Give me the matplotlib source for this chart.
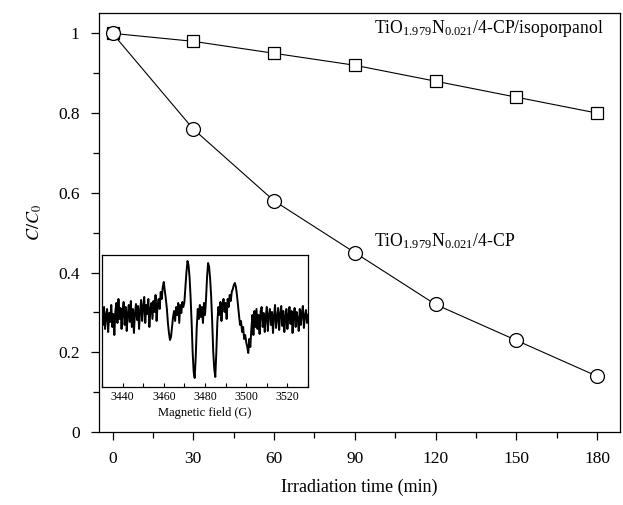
import matplotlib
matplotlib.use("Agg")
import matplotlib.pyplot as plt
from matplotlib.ticker import MultipleLocator, NullLocator
import numpy as np

plt.rcParams['font.family'] = ['Liberation Serif', 'DejaVu Serif']
plt.rcParams['mathtext.fontset'] = 'stix'

# main curves
time_min = [0, 30, 60, 90, 120, 150, 180]
c_isopropanol = [1.0, 0.98, 0.95, 0.92, 0.88, 0.84, 0.80]
c_4cp = [1.0, 0.76, 0.58, 0.45, 0.32, 0.23, 0.14]

# EPR trace (inset), field from 3430 G to 3530 G in 0.5 G steps
field_start = 3430
field_step = 0.5
epr_signal = [
    0.05, -0.08, 0.10, -0.12, 0.02, 0.08, -0.15, 0.04, -0.05, 0.12,
    -0.10, 0.03, -0.18, 0.06, 0.14, -0.06, 0.18, -0.02, 0.09, -0.12,
    0.05, 0.15, -0.08, 0.10, -0.14, 0.02, 0.12, -0.05, 0.16, -0.10,
    0.08, -0.16, 0.04, 0.13, -0.03, 0.11, -0.12, 0.06, 0.17, -0.04,
    0.10, 0.20, -0.06, 0.12, 0.03, 0.18, -0.10, 0.08, 0.14, -0.02,
    0.16, 0.05, 0.22, -0.04, 0.12, 0.18, 0.08, 0.25, 0.18, 0.30,
    0.35, 0.26, 0.18, 0.08, -0.06, -0.16, -0.23, -0.20, -0.10, 0.00,
    0.06, -0.04, 0.10, 0.02, 0.14, -0.06, 0.12, 0.04, 0.15, 0.10,
    0.15, 0.30, 0.45, 0.56, 0.52, 0.40, 0.20, -0.05, -0.35, -0.55,
    -0.61, -0.40, -0.10, 0.08, -0.02, 0.12, 0.00, 0.10, -0.06, 0.14,
    0.02, 0.18, 0.40, 0.54, 0.50, 0.38, 0.20, -0.05, -0.35, -0.52,
    -0.60, -0.35, -0.05, 0.10, 0.02, 0.15, -0.04, 0.12, 0.18, 0.05,
    0.14, -0.02, 0.18, 0.10, 0.22, 0.16, 0.25, 0.28, 0.32, 0.34,
    0.30, 0.22, 0.12, 0.02, -0.08, -0.04, -0.15, -0.10, -0.22, -0.18,
    -0.25, -0.30, -0.36, -0.22, -0.30, -0.12, 0.02, -0.18, 0.06, -0.10,
    0.08, -0.12, 0.02, -0.17, 0.06, 0.10, -0.10, 0.04, -0.15, 0.00,
    0.10, -0.14, 0.02, 0.08, -0.08, 0.05, -0.16, 0.01, 0.12, -0.11,
    -0.01, 0.09, -0.13, 0.03, 0.11, -0.09, 0.06, -0.15, 0.00, 0.08,
    -0.12, 0.02, 0.10, -0.07, 0.06, -0.16, 0.01, 0.09, -0.10, 0.05,
    -0.02, -0.14, 0.08, -0.08, 0.04, 0.11, -0.11, 0.01, 0.07, -0.06,
    0.02,
]
field = field_start + field_step * np.arange(len(epr_signal))

fig = plt.figure(figsize=(6.23, 5.05), dpi=100)
ax = fig.add_axes([0.159, 0.1446, 0.836, 0.8304])

ax.plot(time_min, c_isopropanol, color='black', lw=0.8, marker='s', ms=8,
        mfc='white', mec='black', mew=0.9, zorder=3)
ax.plot(time_min, c_4cp, color='black', lw=0.8, marker='o', ms=10,
        mfc='white', mec='black', mew=0.9, zorder=3)

ax.set_xlim(-5, 188.5)
ax.set_ylim(0, 1.052)
ax.xaxis.set_major_locator(MultipleLocator(30))
ax.xaxis.set_minor_locator(MultipleLocator(15))
ax.yaxis.set_minor_locator(MultipleLocator(0.1))
ax.set_yticks([0, 0.2, 0.4, 0.6, 0.8, 1.0])
ax.set_yticklabels(['0', '0.2', '0.4', '0.6', '0.8', '1'])
ax.tick_params(which='both', direction='out', labelsize=12.5, width=0.9,
               top=False, right=False)
ax.tick_params(which='major', length=6, pad=8)
ax.tick_params(which='minor', length=4)
for s in ax.spines.values():
    s.set_linewidth(0.9)

ax.set_xlabel('Irradiation time (min)', fontsize=13, labelpad=8)
ax.set_ylabel(r'$C/C_0$', fontsize=13, labelpad=10)

ax.text(97, 1.012,
        r'TiO$_{\mathregular{1.979}}$N$_{\mathregular{0.021}}$/4-CP/isoporpanol',
        fontsize=12.7, ha='left', va='center')
ax.text(97, 0.479,
        r'TiO$_{\mathregular{1.979}}$N$_{\mathregular{0.021}}$/4-CP',
        fontsize=12.7, ha='left', va='center')

# inset
ins = fig.add_axes([0.1637, 0.2337, 0.3307, 0.2614])
ins.plot(field, epr_signal, color='black', lw=1.4)
ins.set_xlim(3430, 3530)
ins.set_ylim(-0.70, 0.62)
ins.xaxis.set_minor_locator(MultipleLocator(10))
ins.set_xticks([3440, 3460, 3480, 3500, 3520])
ins.yaxis.set_major_locator(NullLocator())
ins.tick_params(which='both', direction='in', length=3, width=0.8,
                labelsize=8.5, pad=3, top=False, right=False, left=False)
ins.set_xlabel('Magnetic field (G)', fontsize=9, labelpad=3)
for s in ins.spines.values():
    s.set_linewidth(0.9)

fig.savefig('out.png', dpi=100)
